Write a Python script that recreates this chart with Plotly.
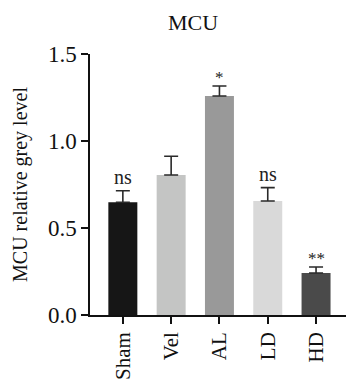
import plotly.graph_objects as go

groups = ["Sham", "Vel", "AL", "LD", "HD"]
means = [0.648, 0.805, 1.259, 0.655, 0.241]
errors = [0.066, 0.107, 0.057, 0.077, 0.035]
signif = ["ns", "", "*", "ns", "**"]
bar_colors = ["#161616", "#c4c5c4", "#999999", "#d9d9d9", "#4a4a4a"]

FONT = "Liberation Serif"

fig = go.Figure()
fig.add_trace(go.Bar(
    x=groups, y=means,
    marker=dict(color=bar_colors, line=dict(width=0)),
    width=0.6,
    error_y=dict(type="data", array=errors, arrayminus=[0]*len(errors), symmetric=False,
                 color="#2a2a2a", thickness=1.6, width=7),
))

for g, m, e, s in zip(groups, means, errors, signif):
    if s:
        fig.add_annotation(x=g, y=m + e, text=s, showarrow=False, yanchor="bottom",
                           yshift=1 if s == "ns" else -3,
                           font=dict(family=FONT, size=20 if s == "ns" else 17, color="#222"))

fig.update_layout(
    width=346, height=379,
    margin=dict(l=90, r=0, t=54, b=64),
    paper_bgcolor="white", plot_bgcolor="white",
    showlegend=False,
    title=dict(text="MCU", x=0.558, xanchor="center", y=1 - 22/379, yref="container", yanchor="middle",
               font=dict(family=FONT, size=22, color="#111")),
    font=dict(family=FONT, color="#111"),
)
fig.update_xaxes(range=[-0.68, 4.62], showline=True, linecolor="#111", linewidth=1.5,
                 ticks="outside", ticklen=7, tickwidth=1.5, tickcolor="#111",
                 tickangle=-90, tickfont=dict(family=FONT, size=21, color="#111"),
                 showgrid=False, zeroline=False, automargin=False)
fig.update_yaxes(range=[0, 1.5], tickvals=[0, 0.5, 1.0, 1.5], ticktext=["0.0", "0.5", "1.0", "1.5"],
                 showline=True, linecolor="#111", linewidth=1.5,
                 ticks="outside", ticklen=7, tickwidth=1.5, tickcolor="#111",
                 tickfont=dict(family=FONT, size=23, color="#111"),
                 title=dict(text="MCU relative grey level", font=dict(family=FONT, size=20, color="#111"),
                            standoff=15),
                 showgrid=False, zeroline=False, automargin=False)

fig.write_html("out.html", config={"displayModeBar": False},
               post_script="document.body.style.margin='0';document.body.style.overflow='hidden';")
